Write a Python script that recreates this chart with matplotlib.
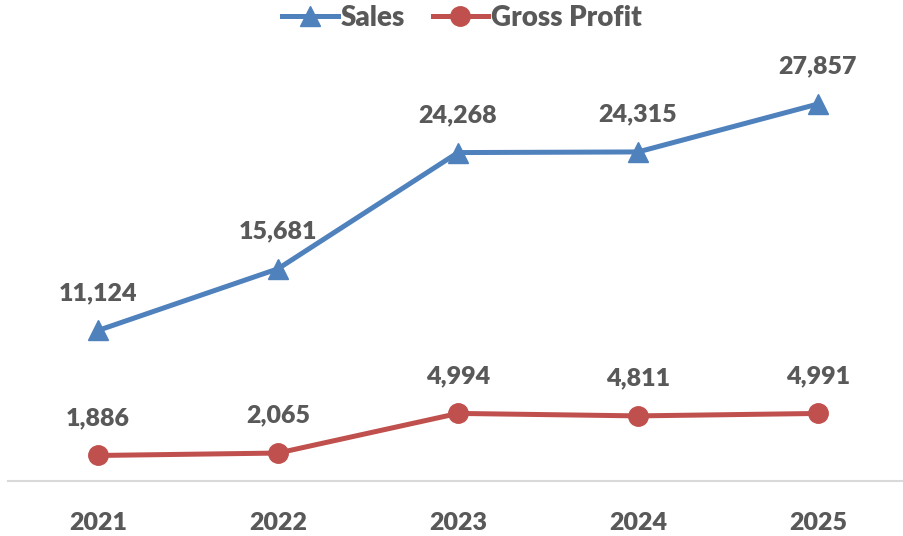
import matplotlib.pyplot as plt

years = ["2021", "2022", "2023", "2024", "2025"]
sales = [11124, 15681, 24268, 24315, 27857]
gross_profit = [1886, 2065, 4994, 4811, 4991]

txt = "#595959"
plt.rcParams["font.family"] = ["Lato", "DejaVu Sans"]
plt.rcParams["font.weight"] = "heavy"

fig = plt.figure(figsize=(9.04, 5.36), dpi=100)
ax = fig.add_axes([8 / 904, 55 / 536, 900 / 904, 406 / 536])

x = list(range(len(years)))
ax.plot(x, sales, color="#4F81BD", lw=3.6, marker="^", ms=15, label="Sales")
ax.plot(x, gross_profit, color="#C0504D", lw=3.6, marker="o", ms=14, label="Gross Profit")

# value labels above each point
for series in (sales, gross_profit):
    for xi, v in zip(x, series):
        ax.annotate(f"{v:,}", (xi, v), xytext=(0, 27), textcoords="offset points",
                    ha="center", va="center", fontsize=18, fontweight="heavy", color=txt)

ax.set_xlim(-0.5, 4.5)
ax.set_ylim(0, 30000)
ax.set_xticks(x)
ax.set_xticklabels(years, fontsize=18, fontweight="heavy", color=txt)
ax.tick_params(axis="x", length=0, pad=22)
ax.set_yticks([])
for s in ["top", "right", "left"]:
    ax.spines[s].set_visible(False)
ax.spines["bottom"].set_color("#D9D9D9")
ax.spines["bottom"].set_linewidth(1.5)

leg = fig.legend(loc="center", bbox_to_anchor=(462 / 904, 1 - 18 / 536), ncol=2, frameon=False,
                 fontsize=20, handlelength=2.0, columnspacing=1.0, handletextpad=0.1)
for t in leg.get_texts():
    t.set_color(txt)

fig.savefig("out.png", dpi=100)
